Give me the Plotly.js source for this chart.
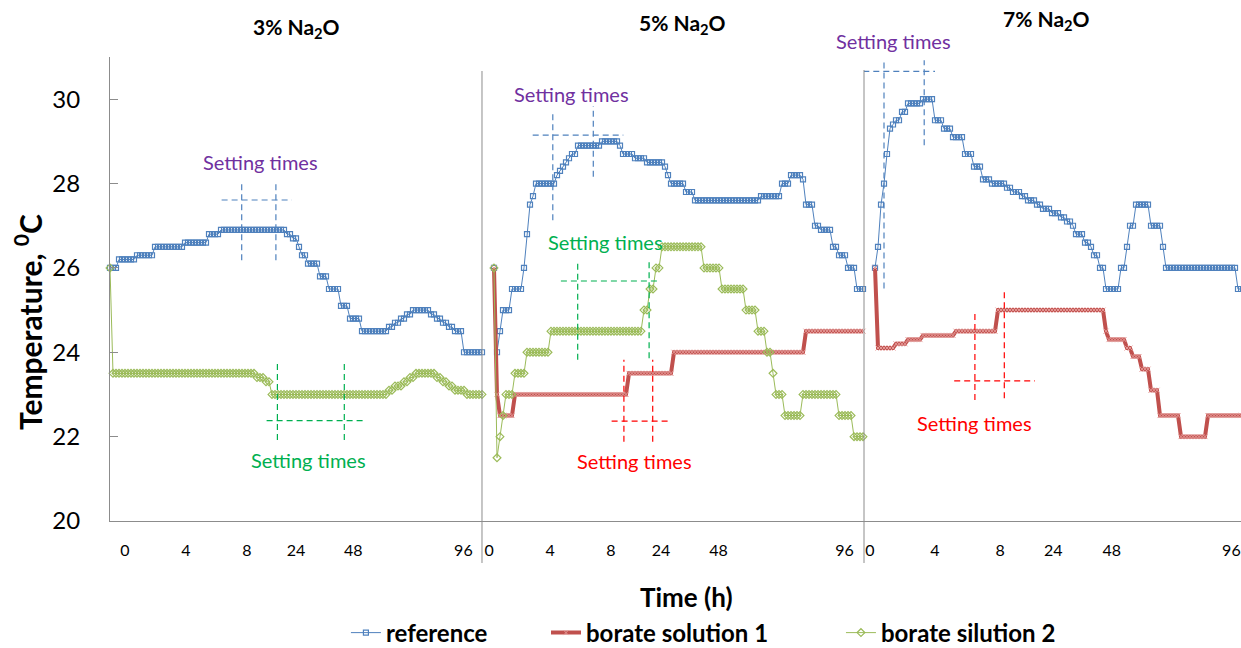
<!DOCTYPE html>
<html>
<head>
<meta charset="utf-8">
<script src="https://cdn.plot.ly/plotly-3.0.1.min.js"></script>
<style>html,body{margin:0;padding:0;background:#fff;}#chart{width:1241px;height:648px;}</style>
</head>
<body>
<div id="chart"></div>
<script>
// ---------- DATA (run-length: temperature level, number of consecutive samples) ----------
const hourLabels = ['0', '4', '8', '24', '48', '96'];
// sample index at which each hour label sits, per panel
const hourIdx3 = [5, 25.3, 45.6, 62, 81.1, 117.8];
const hourIdx5 = [-1.6, 18.7, 39, 55.7, 74.8, 116.8];
const hourIdx7 = [-1.7, 20, 41.7, 59.4, 78.9, 118.8];

// 3% Na2O
const ref3_T = [26.0,26.2,26.3,26.5,26.6,26.8,26.9,26.8,26.7,26.5,26.3,26.1,25.8,25.5,25.1,24.8,24.5,24.6,24.7,24.8,24.9,25.0,24.9,24.8,24.7,24.6,24.5,24.0];
const ref3_n = [3,6,6,10,8,4,22,2,2,1,2,4,3,4,3,4,9,2,2,2,2,6,2,2,2,2,3,7];
const bor2_3_T = [26.0,23.5,23.4,23.3,23.0,23.1,23.2,23.3,23.4,23.5,23.4,23.3,23.2,23.1,23.0];
const bor2_3_n = [1,48,3,2,39,2,3,2,2,7,2,2,2,4,6];

// 5% Na2O
const ref5_T = [26.0,24.0,24.5,25.0,25.5,26.0,26.8,27.5,27.7,28.0,28.2,28.3,28.4,28.5,28.6,28.7,28.9,29.0,28.9,28.7,28.6,28.5,28.4,28.2,28.0,27.8,27.6,27.7,28.0,28.2,28.1,27.5,27.0,26.9,26.5,26.3,26.0,25.5];
const ref5_n = [1,1,1,3,4,1,1,1,1,7,1,1,1,1,1,2,8,6,1,4,4,6,1,1,5,3,22,7,3,4,1,3,2,4,2,3,3,3];
const bor1_5_T = [26.0,23.0,22.5,23.0,23.5,24.0,24.5];
const bor1_5_n = [1,1,5,38,15,44,20];
const bor2_5_T = [26.0,21.5,22.0,22.5,23.0,23.5,24.0,24.5,25.0,25.5,26.0,26.5,26.0,25.5,25.0,24.5,24.0,23.5,23.0,22.5,23.0,22.5,22.0];
const bor2_5_n = [1,1,1,1,3,4,8,31,2,2,2,14,6,8,4,3,2,1,3,6,12,5,4];

// 7% Na2O
const ref7_T = [26.0,26.5,27.5,28.0,28.7,29.3,29.4,29.5,29.7,29.9,30.0,29.5,29.3,29.1,28.7,28.4,28.1,28.0,27.9,27.8,27.7,27.6,27.5,27.4,27.3,27.2,27.1,27.0,26.8,26.6,26.5,26.3,26.0,25.5,26.0,26.5,27.0,27.5,27.0,26.5,26.0,25.5];
const ref7_n = [1,1,1,1,1,1,1,2,2,5,4,3,3,4,3,3,3,5,2,3,2,3,2,3,3,2,2,1,3,2,1,2,2,5,2,1,2,5,4,1,24,2];
const bor1_7_T = [26.0,24.1,24.2,24.3,24.4,24.5,25.0,24.5,24.3,24.1,23.9,23.6,23.1,22.5,22.0,22.5];
const bor1_7_n = [1,6,4,5,11,14,36,1,6,2,3,3,3,7,9,12];

// "Setting times" guides: verticals [x, yLow, yHigh], horizontal [y, xLeft, xRight], label [x, y]
const setBlue3  = {ax:'x',  v:[[43.9,26.18,28.08],[55.3,26.18,28.08]], h:[27.61,37.2,60.6], lab:[50,28.51]};
const setGreen3 = {ax:'x',  v:[[55.8,21.92,23.77],[78.1,21.92,23.77]], h:[22.38,52.2,84.4], lab:[66,21.45]};
const setBlue5  = {ax:'x2', v:[[19.6,27.13,29.70],[33.1,28.16,29.83]], h:[29.15,12.9,43.1], lab:[25.9,30.13]};
const setGreen5 = {ax:'x2', v:[[27.9,23.82,26.14],[51.7,23.86,26.18]], h:[25.69,22.3,55.3], lab:[37,26.62]};
const setRed5   = {ax:'x2', v:[[43.3,21.88,23.82],[52.9,21.88,23.82]], h:[22.37,39.2,59.2], lab:[46.8,21.43]};
const setBlue7  = {ax:'x3', v:[[3,25.51,30.92],[16.4,28.91,30.92]], h:[30.66,-3.9,20], lab:[6,31.37]};
const setRed7   = {ax:'x3', v:[[33.3,22.87,25.0],[43.1,22.91,25.47]], h:[23.32,26.4,53.3], lab:[33.1,22.32]};

// ---------- STYLE ----------
const AX = '#8c8c8c';
const BLUE = '#4F81BD', RED = '#C0504D', GREEN = '#9BBB59';
const FONT = 'Lato, "Open Sans", sans-serif';

function expand(vals, counts) {
  const y = [];
  vals.forEach((v, k) => { for (let j = 0; j < counts[k]; j++) y.push(v); });
  return y;
}
function idx(n) { return Array.from({length: n}, (_, i) => i); }

function refTrace(T, n, xa, show) {
  const y = expand(T, n);
  return {x: idx(y.length), y: y, xaxis: xa, yaxis: 'y', type: 'scatter', mode: 'lines+markers',
    name: 'reference', legend: 'legend', legendgroup: 'ref', showlegend: show, cliponaxis: false,
    line: {color: BLUE, width: 1},
    marker: {symbol: 'square-open', size: 5, color: BLUE, line: {color: BLUE, width: 1.2}}};
}
function bor1Trace(T, n, xa, show) {
  const y = expand(T, n);
  return {x: idx(y.length), y: y, xaxis: xa, yaxis: 'y', type: 'scatter', mode: 'lines+markers',
    name: 'borate solution 1', legend: 'legend2', legendgroup: 'b1', showlegend: show, cliponaxis: false,
    line: {color: RED, width: 4},
    marker: {symbol: 'x-thin', size: 5, color: '#e08a88', line: {color: '#e59a98', width: 1}}};
}
function bor2Trace(T, n, xa, show) {
  const y = expand(T, n);
  return {x: idx(y.length), y: y, xaxis: xa, yaxis: 'y', type: 'scatter', mode: 'lines+markers',
    name: 'borate silution 2', legend: 'legend3', legendgroup: 'b2', showlegend: show, cliponaxis: false,
    line: {color: GREEN, width: 1},
    marker: {symbol: 'diamond-open', size: 6, color: GREEN, line: {color: GREEN, width: 1.2}}};
}

const traces = [
  refTrace(ref3_T, ref3_n, 'x', true),
  bor2Trace(bor2_3_T, bor2_3_n, 'x', true),
  refTrace(ref5_T, ref5_n, 'x2', false),
  bor1Trace(bor1_5_T, bor1_5_n, 'x2', true),
  bor2Trace(bor2_5_T, bor2_5_n, 'x2', false),
  refTrace(ref7_T, ref7_n, 'x3', false),
  bor1Trace(bor1_7_T, bor1_7_n, 'x3', false)
];

const shapes = [];
const annotations = [];
function addSetting(s, lineColor, textColor) {
  const dash = {color: lineColor, width: 1.2, dash: '6px,4px'};
  s.v.forEach(v => shapes.push({type: 'line', xref: s.ax, yref: 'y', x0: v[0], x1: v[0], y0: v[1], y1: v[2], line: dash}));
  shapes.push({type: 'line', xref: s.ax, yref: 'y', x0: s.h[1], x1: s.h[2], y0: s.h[0], y1: s.h[0], line: dash});
  const above = s.lab[1] > 31;
  annotations.push({xref: s.ax, yref: above ? 'paper' : 'y', x: s.lab[0], y: above ? (s.lab[1] - 20) / 11 : s.lab[1],
    xanchor: 'center', yanchor: 'middle',
    text: 'Setting times', showarrow: false, font: {family: FONT, size: 20, color: textColor}});
}
addSetting(setBlue3, BLUE, '#7030A0');
addSetting(setGreen3, '#00B050', '#00B050');
addSetting(setBlue5, BLUE, '#7030A0');
addSetting(setGreen5, '#00B050', '#00B050');
addSetting(setRed5, '#FF0000', '#FF0000');
addSetting(setBlue7, BLUE, '#7030A0');
addSetting(setRed7, '#FF0000', '#FF0000');

// panel dividers
shapes.push({type: 'line', xref: 'paper', yref: 'paper', x0: 0.32891, x1: 0.32891, y0: -0.0905, y1: 0.9698, line: {color: AX, width: 1}});
shapes.push({type: 'line', xref: 'paper', yref: 'paper', x0: 0.66667, x1: 0.66667, y0: -0.0905, y1: 0.972, line: {color: AX, width: 1}});

// panel titles and axis titles
const bold = {family: FONT, size: 21, color: '#000', weight: 'bold'};
function note(x, y, text, font, extra) {
  annotations.push(Object.assign({xref: 'paper', yref: 'paper', x: x, y: y, xanchor: 'center', yanchor: 'middle',
    text: text, showarrow: false, font: font}, extra || {}));
}
note(0.16446, 1.0625, '3% Na<sub>2</sub>O', bold);
note(0.50575, 1.0711, '5% Na<sub>2</sub>O', bold);
note(0.82847, 1.0797, '7% Na<sub>2</sub>O', bold);
note(0.5093, -0.1638, 'Time (h)', {family: FONT, size: 26, color: '#000', weight: 'bold'});
note(-0.0725, 0.4289, 'Temperature, <sup>0</sup>C', {family: FONT, size: 30, color: '#000', weight: 'bold'}, {textangle: -90});

function xAxis(dom, rng, tv) {
  return {domain: dom, range: rng, anchor: 'y', showline: true, linecolor: AX, linewidth: 1, showgrid: false, zeroline: false,
    ticks: '', tickmode: 'array', tickvals: tv, ticktext: hourLabels, ticklabelstandoff: 15, ticklabeloverflow: 'allow',
    tickfont: {family: FONT, size: 16, color: '#000'}, fixedrange: true};
}
const legFont = {family: FONT, size: 24, color: '#000', weight: 'bold'};
function leg(x) {
  return {x: x, xanchor: 'left', y: -0.2414, yanchor: 'middle', orientation: 'h', font: legFont, bgcolor: 'rgba(0,0,0,0)', borderwidth: 0};
}

const layout = {
  width: 1241, height: 648,
  margin: {l: 110, r: 0, t: 57, b: 127, pad: 0, autoexpand: false},
  paper_bgcolor: '#fff', plot_bgcolor: '#fff',
  font: {family: FONT, color: '#000'},
  showlegend: true,
  xaxis: xAxis([0, 0.32891], [0, 124], hourIdx3),
  xaxis2: xAxis([0.32891, 0.66667], [-4, 123.33], hourIdx5),
  xaxis3: xAxis([0.66667, 1], [-3.667, 122], hourIdx7),
  yaxis: {domain: [0, 1], range: [20, 31], anchor: 'x', showline: true, linecolor: AX, linewidth: 1, showgrid: false, zeroline: false,
    ticks: 'inside', ticklen: 8, tickcolor: AX, tickmode: 'array', tickvals: [20, 22, 24, 26, 28, 30], ticklabelstandoff: 24,
    tickfont: {family: FONT, size: 24, color: '#000'}, fixedrange: true},
  legend: leg(0.2086),
  legend2: leg(0.3855),
  legend3: leg(0.6463),
  shapes: shapes,
  annotations: annotations
};

Plotly.newPlot('chart', traces, layout, {displayModeBar: false, staticPlot: true});
</script>
</body>
</html>
